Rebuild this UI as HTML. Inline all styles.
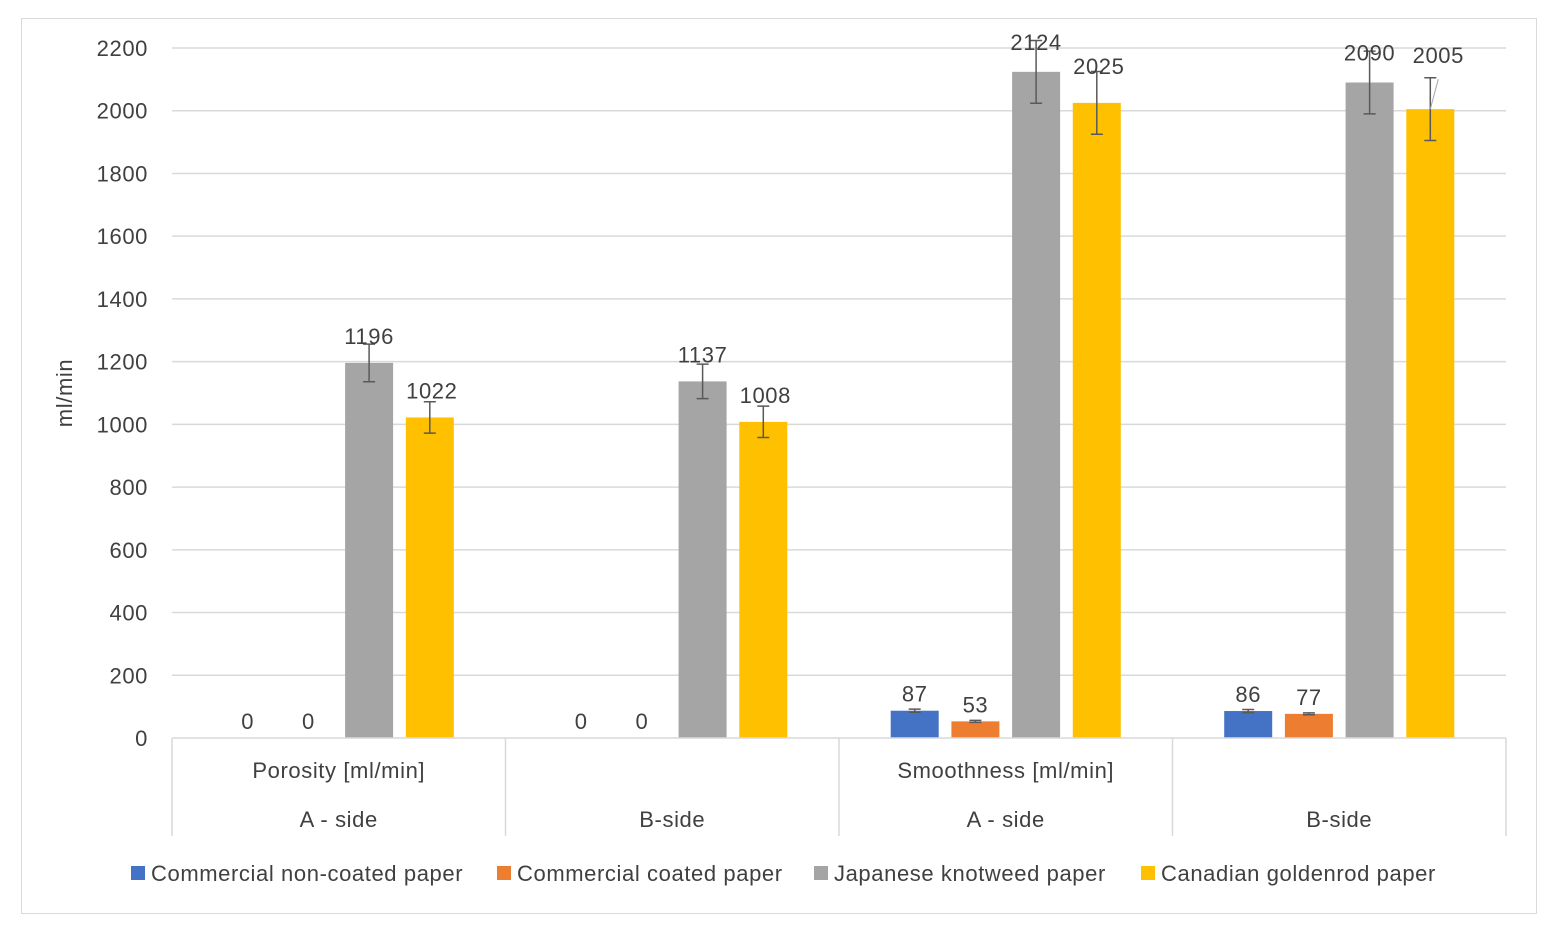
<!DOCTYPE html>
<html><head><meta charset="utf-8"><style>
body{margin:0;background:#fff;}
svg text{font-family:"Liberation Sans",sans-serif;fill:#404040;letter-spacing:0.6px;}
</style></head><body>
<svg id="c" width="1559" height="932" xmlns="http://www.w3.org/2000/svg">
<rect x="21.5" y="18.5" width="1515" height="895" fill="#fff" stroke="#d9d9d9"/>
<g id="grid"></g><g id="bars"></g><g id="axes"></g>
</svg>
<script>
const ticks=[0,200,400,600,800,1000,1200,1400,1600,1800,2000,2200];
const groups=["A - side","B-side","A - side","B-side"];
const supergroups=["Porosity [ml/min]","Smoothness [ml/min]"];
const seriesNames=["Commercial non-coated paper","Commercial coated paper","Japanese knotweed paper","Canadian goldenrod paper"];
const colors=["#4472c4","#ed7d31","#a5a5a5","#ffc000"];
const nonCoated=[0,0,87,86];
const coated=[0,0,53,77];
const knotweed=[1196,1137,2124,2090];
const goldenrod=[1022,1008,2025,2005];
const errNonCoated=[0,0,5,5];
const errCoated=[0,0,3,3];
const errKnotweed=[60,55,100,100];
const errGoldenrod=[50,50,100,100];
const series=[nonCoated,coated,knotweed,goldenrod];
const errs=[errNonCoated,errCoated,errKnotweed,errGoldenrod];
const NS="http://www.w3.org/2000/svg";
const x0=172,x1=1506,y0=738,yTop=48,vmax=2200;
const y=v=>y0-(v/vmax)*(y0-yTop);
const gw=(x1-x0)/groups.length;
const xc=(g,s)=>x0+gw*g+gw/2+(s-1.5)*60.7;
const FS=22;
function mk(tag,attrs,parent,text){const e=document.createElementNS(NS,tag);for(const k in attrs)e.setAttribute(k,attrs[k]);if(text!==undefined)e.textContent=text;document.getElementById(parent).appendChild(e);return e;}
ticks.forEach(t=>{
  if(t>0){const l=mk('line',{x1:x0,x2:x1,y1:y(t),y2:y(t),stroke:'#d9d9d9','stroke-width':1.5},'grid');
  
  }
  const tx=mk('text',{x:148,y:y(t)+8,'text-anchor':'end','font-size':FS},'axes',String(t));
  
  
});
const yt=mk('text',{x:0,y:0,'text-anchor':'middle','font-size':FS,transform:'translate(72,393) rotate(-90)'},'axes','ml/min');


const ax=mk('line',{x1:x0,x2:x1,y1:y0,y2:y0,stroke:'#d9d9d9','stroke-width':1.5},'axes');


for(let g=0;g<=groups.length;g++){
  const l=mk('line',{x1:x0+gw*g,x2:x0+gw*g,y1:y0,y2:836,stroke:'#d9d9d9','stroke-width':1.5},'axes');
  
  
}
groups.forEach((g,i)=>{
  const t=mk('text',{x:x0+gw*i+gw/2,y:827,'text-anchor':'middle','font-size':FS},'axes',g);
  
  
});
supergroups.forEach((g,i)=>{
  const t=mk('text',{x:x0+gw*2*i+gw/2,y:778,'text-anchor':'middle','font-size':FS},'axes',g);
  
  
});
series.forEach((vals,s)=>{
  vals.forEach((v,g)=>{
    const cx=xc(g,s);
    if(v>0){
      const r=mk('rect',{x:cx-24,y:y(v),width:48,height:y0-y(v),fill:colors[s]},'bars');
      
      
      const e=errs[s][g];
      const eb=mk('path',{d:`M${cx} ${y(v+e)}V${y(v-e)}M${cx-6} ${y(v+e)}H${cx+6}M${cx-6} ${y(v-e)}H${cx+6}`,stroke:'#595959','stroke-width':1.5,fill:'none'},'bars');
      
      
    }
    let ly=y(v)-9;
    if(s>=2){ly=y(v)-19;}
    if(s===3&&g===3){ly=y(v)-46;}
    if(s===3&&g===2){ly=y(v)-29;}
    if(s===2&&g>=2){ly=y(v)-22;}
    const dx=(s===3&&g===3)?8:(s===3?2:0);
    const t=mk('text',{x:cx+dx,y:ly,'text-anchor':'middle','font-size':FS},'bars',String(v));
    
    
    if(s===3&&g===3){
      const l=mk('line',{x1:cx,y1:y(v),x2:cx+8,y2:y(v)-30,stroke:'#a5a5a5','stroke-width':1},'bars');
      
      
    }
  });
});
const lx=[131,497,814,1141];
seriesNames.forEach((n,i)=>{
  const r=mk('rect',{x:lx[i],y:866,width:14,height:14,fill:colors[i]},'axes');
  
  
  const t=mk('text',{x:lx[i]+20,y:881,'font-size':FS},'axes',n);
  
  
});
</script>
</body></html>
